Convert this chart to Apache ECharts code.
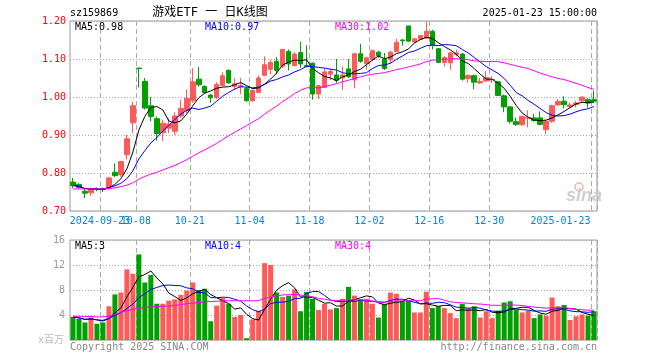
<!DOCTYPE html>
<html><head><meta charset="utf-8">
<script src="https://cdn.jsdelivr.net/npm/echarts@6/dist/echarts.min.js"></script>
<style>html,body{margin:0;padding:0;background:#fff}#c{width:660px;height:360px}</style>
</head><body><div id="c"></div>
<script>
const dates = ['2024-09-12','2024-09-13','2024-09-18','2024-09-19','2024-09-20','2024-09-23','2024-09-24','2024-09-25','2024-09-26','2024-09-27',
'2024-09-30','2024-10-08','2024-10-09','2024-10-10','2024-10-11','2024-10-14','2024-10-15','2024-10-16','2024-10-17','2024-10-18',
'2024-10-21','2024-10-22','2024-10-23','2024-10-24','2024-10-25','2024-10-28','2024-10-29','2024-10-30','2024-10-31','2024-11-01',
'2024-11-04','2024-11-05','2024-11-06','2024-11-07','2024-11-08','2024-11-11','2024-11-12','2024-11-13','2024-11-14','2024-11-15',
'2024-11-18','2024-11-19','2024-11-20','2024-11-21','2024-11-22','2024-11-25','2024-11-26','2024-11-27','2024-11-28','2024-11-29',
'2024-12-02','2024-12-03','2024-12-04','2024-12-05','2024-12-06','2024-12-09','2024-12-10','2024-12-11','2024-12-12','2024-12-13',
'2024-12-16','2024-12-17','2024-12-18','2024-12-19','2024-12-20','2024-12-23','2024-12-24','2024-12-25','2024-12-26','2024-12-27',
'2024-12-30','2024-12-31','2025-01-02','2025-01-03','2025-01-06','2025-01-07','2025-01-08','2025-01-09','2025-01-10','2025-01-13',
'2025-01-14','2025-01-15','2025-01-16','2025-01-17','2025-01-20','2025-01-21','2025-01-22','2025-01-23'];

const open = [.776,.770,.752,.748,.758,.759,.762,.802,.795,.848,
.932,1.076,1.041,.977,.943,.906,.918,.910,.950,.964,
.990,1.047,1.028,1.005,.998,1.030,1.070,1.028,1.027,1.022,
.990,1.012,1.057,1.073,1.094,1.081,1.120,1.083,1.117,1.083,
1.089,1.008,1.025,1.060,1.058,1.050,1.074,1.045,1.114,1.088,
1.098,1.118,1.100,1.098,1.120,1.150,1.187,1.145,1.152,1.155,
1.173,1.127,1.091,1.090,1.112,1.113,1.048,1.056,1.037,1.042,
1.045,1.040,1.003,.974,.935,.927,.944,.945,.945,.914,
.936,.979,.989,.975,.980,.990,.993,.993];

const close = [.767,.762,.747,.757,.757,.757,.787,.793,.830,.890,
.977,1.075,.971,.949,.904,.931,.929,.950,.970,.996,
1.040,1.032,1.012,.998,1.033,1.056,1.037,1.035,1.030,.990,
1.017,1.050,1.085,1.091,1.070,1.125,1.087,1.113,1.087,1.080,
1.008,1.030,1.066,1.067,1.044,1.058,1.054,1.114,1.094,1.103,
1.122,1.109,1.075,1.118,1.144,1.148,1.147,1.153,1.162,1.173,
1.136,1.091,1.104,1.116,1.116,1.047,1.057,1.039,1.041,1.051,
1.046,1.004,.974,.936,.928,.949,.946,.938,.928,.936,
.977,.988,.980,.979,.984,1.000,.984,.989];

const high = [.787,.773,.760,.762,.762,.762,.789,.825,.832,.900,
.987,1.076,1.050,1.000,.949,.940,.944,.960,.993,1.020,
1.076,1.079,1.031,1.008,1.039,1.065,1.073,1.050,1.050,1.027,
1.020,1.057,1.107,1.098,1.105,1.127,1.125,1.118,1.146,1.136,
1.091,1.031,1.075,1.075,1.100,1.080,1.100,1.114,1.140,1.106,
1.125,1.122,1.116,1.122,1.153,1.153,1.187,1.155,1.162,1.199,
1.177,1.129,1.107,1.118,1.125,1.116,1.059,1.059,1.050,1.068,
1.055,1.042,1.006,.976,.945,.951,.965,.956,.962,.940,
.980,.995,1.002,.985,.990,1.001,.997,1.016];

const low = [.760,.758,.734,.740,.752,.750,.755,.789,.790,.836,
.905,1.025,.967,.936,.886,.884,.905,.900,.945,.957,
.985,1.028,1.008,.985,.995,1.028,1.035,1.018,1.007,.988,
.988,1.010,1.055,1.060,1.060,1.076,1.070,1.080,1.077,1.078,
.993,.995,1.024,1.045,1.037,1.018,1.050,1.023,1.090,1.072,
1.095,1.103,1.071,1.088,1.118,1.135,1.145,1.142,1.150,1.153,
1.125,1.089,1.080,1.072,1.107,1.043,1.037,1.020,1.035,1.040,
1.037,1.002,.960,.930,.924,.924,.920,.935,.925,.902,
.932,.977,.970,.970,.973,.987,.972,.985];

const ma5 = [.767,.765,.759,.758,.758,.756,.761,.770,.785,.811,
.855,.913,.949,.972,.975,.966,.937,.932,.937,.955,
.977,.998,1.010,1.016,1.023,1.026,1.027,1.032,1.038,1.030,
1.022,1.024,1.034,1.047,1.063,1.084,1.092,1.097,1.096,1.098,
1.075,1.064,1.054,1.050,1.043,1.053,1.058,1.067,1.073,1.085,
1.097,1.108,1.101,1.105,1.114,1.119,1.126,1.142,1.151,1.157,
1.154,1.143,1.133,1.124,1.113,1.095,1.088,1.075,1.060,1.047,
1.047,1.036,1.023,1.002,.978,.958,.947,.939,.938,.939,
.945,.953,.962,.972,.982,.986,.985,.987];

const ma10 = [.767,.765,.759,.758,.758,.758,.762,.766,.773,.785,
.806,.837,.859,.879,.893,.911,.925,.941,.955,.965,
.971,.967,.971,.976,.989,1.002,1.012,1.021,1.027,1.026,
1.024,1.026,1.033,1.042,1.046,1.053,1.058,1.066,1.072,1.081,
1.080,1.078,1.076,1.073,1.071,1.064,1.061,1.061,1.062,1.064,
1.075,1.083,1.084,1.089,1.099,1.108,1.117,1.121,1.128,1.135,
1.137,1.135,1.138,1.137,1.135,1.125,1.116,1.104,1.092,1.080,
1.071,1.062,1.049,1.031,1.012,1.003,.991,.981,.970,.959,
.952,.950,.951,.955,.961,.966,.969,.975];

const ma30 = [.758,.758,.758,.758,.758,.758,.759,.761,.764,.768,
.774,.784,.791,.797,.802,.808,.814,.820,.827,.835,
.844,.853,.861,.869,.878,.888,.898,.907,.916,.925,
.934,.943,.955,.966,.976,.988,.998,1.009,1.018,1.024,
1.025,1.024,1.027,1.031,1.035,1.040,1.044,1.049,1.053,1.057,
1.060,1.062,1.064,1.068,1.072,1.075,1.079,1.083,1.087,1.093,
1.097,1.098,1.099,1.100,1.101,1.099,1.098,1.095,1.094,1.093,
1.094,1.093,1.090,1.086,1.082,1.078,1.075,1.069,1.063,1.058,
1.053,1.049,1.046,1.041,1.036,1.031,1.025,1.020];

const volume = [3.7,3.4,2.8,3.6,2.6,2.8,5.4,7.3,7.6,11.3,
10.6,13.7,9.2,10.4,5.8,5.8,6.3,6.5,7.2,7.9,
9.2,8.0,8.2,3.0,5.5,6.7,5.8,3.7,4.0,0.3,
3.3,4.7,12.3,12.0,7.6,6.9,7.1,8.1,4.6,7.7,
6.6,4.8,5.8,4.9,5.1,6.6,8.5,7.1,6.5,6.6,
5.8,3.6,5.8,7.6,7.4,6.3,6.3,4.4,4.4,7.7,
5.1,5.4,5.1,4.3,3.5,5.8,5.1,5.4,3.6,4.6,
3.5,4.7,6.0,6.2,4.9,4.4,4.7,3.5,4.1,3.9,
6.8,5.4,5.6,3.2,3.8,4.1,3.9,4.6];

const volMa5 = [3.70,3.55,3.30,3.38,3.22,3.04,3.44,4.34,5.14,6.88,
8.44,10.10,10.48,11.04,9.94,8.98,7.50,6.96,6.32,6.74,
7.42,7.76,8.10,7.26,6.78,6.28,5.84,4.94,5.14,4.10,
3.42,3.20,4.92,6.52,7.98,8.70,9.18,8.34,6.86,6.88,
6.82,6.36,5.90,5.96,5.44,5.44,6.18,6.44,6.76,7.06,
6.90,5.92,5.66,5.88,6.04,6.14,6.68,6.40,5.76,5.82,
5.58,5.40,5.54,5.52,4.68,4.82,4.76,4.82,4.68,4.90,
4.44,4.36,4.48,5.00,5.06,5.24,5.24,4.74,4.32,4.12,
4.60,4.74,5.16,4.98,4.96,4.42,4.12,3.92];

const volMa10 = [3.70,3.55,3.30,3.38,3.22,3.15,3.47,3.95,4.36,5.05,
5.74,6.77,7.41,8.09,8.41,8.71,8.80,8.72,8.68,8.34,
8.20,7.63,7.53,6.79,6.76,6.85,6.80,6.52,6.20,5.44,
4.85,4.52,4.93,5.83,6.04,6.06,6.19,6.63,6.69,7.43,
7.76,7.77,7.12,6.41,6.16,6.13,6.27,6.17,6.36,6.25,
6.17,6.05,6.05,6.32,6.55,6.52,6.30,6.03,5.82,5.93,
5.86,6.04,5.97,5.64,5.25,5.20,5.08,5.18,5.10,4.79,
4.63,4.56,4.65,4.84,4.98,4.84,4.80,4.61,4.66,4.59,
4.92,4.99,4.95,4.65,4.54,4.51,4.43,4.54];

const volMa30 = [3.8,3.8,3.75,3.75,3.7,3.7,3.8,4.1,4.4,4.7,
4.9,5.1,5.2,5.3,5.35,5.4,5.45,5.55,5.65,5.8,
5.9,6.0,6.1,6.15,6.2,6.25,6.3,6.3,6.3,6.28,
6.26,6.31,6.62,6.90,7.07,7.21,7.26,7.29,7.19,7.07,
6.94,6.64,6.53,6.34,6.32,6.35,6.42,6.44,6.42,6.37,
6.26,6.11,6.03,6.19,6.25,6.24,6.25,6.28,6.29,6.54,
6.60,6.62,6.38,6.12,5.99,5.95,5.88,5.79,5.76,5.66,
5.55,5.55,5.56,5.60,5.59,5.52,5.39,5.27,5.19,5.10,
5.14,5.20,5.19,5.04,4.92,4.85,4.77,4.78];

const labelIdx = [5, 11, 20, 30, 40, 50, 60, 70, 87];
const firstLabelIdx = 5;
const lastLabelIdx = 87;
const priceTicks = {min: 0.70, max: 1.20, step: 0.10};
const volTicks = {min: 0, max: 16, step: 4};
const legendPrice = ['MA5:0.98', 'MA10:0.97', 'MA30:1.02'];
const legendVol = ['MA5:3', 'MA10:4', 'MA30:4'];

const UP = '#ff5a5a', DOWN = '#00a000';
const MONO = 'DejaVu Sans Mono';
const XLAB = '#0a84cf';
const chart = echarts.init(document.getElementById('c'), null, {renderer: 'canvas'});

const candles = dates.map((d, i) => [open[i], close[i], low[i], high[i]]);
const volBars = volume.map((v, i) => ({value: v, itemStyle: {color: close[i] > open[i] ? UP : DOWN}}));
const showIdx = (i) => labelIdx.indexOf(i) >= 0;

function txt(x, y, text, fill, align, size, family) {
  return {type: 'text', x: x, y: y, silent: true, z: 100,
    style: {text: text, fill: fill, font: (size || 10) + 'px ' + (family || MONO),
      align: align || 'left', verticalAlign: 'middle', textAlign: align || 'left', textVerticalAlign: 'middle'}};
}

const richStyles = {
  n: {color: XLAB, fontSize: 10, fontFamily: MONO, padding: [0, 6, 0, 0]},
  last: {color: XLAB, fontSize: 10, fontFamily: MONO, padding: [0, 67, 0, 0]}
};

function xAxisBase(grid, labelFilter, withSplit) {
  return {
    type: 'category', gridIndex: grid, data: dates, boundaryGap: true, position: 'bottom', offset: 0,
    axisLine: {show: false}, axisTick: {show: false},
    axisLabel: labelFilter ? {
      show: true, interval: labelFilter, margin: 5, hideOverlap: false,
      showMinLabel: true, showMaxLabel: true,
      color: XLAB, fontSize: 10, fontFamily: MONO,
      formatter: (v, i) => {
        if (i === lastLabelIdx) return '{last|' + v + '}';
        if (i === firstLabelIdx) return '{n|' + v + '}';
        return '{n|' + v.slice(5) + '}';
      },
      rich: richStyles
    } : {show: false},
    splitLine: {show: withSplit, interval: (i) => showIdx(i), lineStyle: {color: '#aaa', width: 1, type: [5, 3]}}
  };
}

const lineS = (name, data, color, x, y) => ({
  name: name, type: 'line', data: data, xAxisIndex: x, yAxisIndex: y,
  symbol: 'none', smooth: false, silent: true, z: 5,
  lineStyle: {color: color, width: 1}, itemStyle: {color: color}
});

const option = {
  animation: false,
  backgroundColor: '#fff',
  grid: [
    {left: 70, top: 21, width: 527, height: 190, show: true, borderColor: '#9a9a9a', borderWidth: 1, backgroundColor: 'transparent'},
    {left: 70, top: 240, width: 527, height: 100, show: true, borderColor: '#9a9a9a', borderWidth: 1, backgroundColor: 'transparent'}
  ],
  xAxis: [
    xAxisBase(0, (i) => showIdx(i) && i !== firstLabelIdx, true),
    xAxisBase(1, null, true),
    xAxisBase(0, (i) => i === firstLabelIdx, false)
  ],
  yAxis: [
    {type: 'value', gridIndex: 0, min: priceTicks.min, max: priceTicks.max, interval: priceTicks.step,
      axisLine: {show: false}, axisTick: {show: false},
      axisLabel: {color: '#f00', fontSize: 10, fontFamily: MONO, margin: 4, showMinLabel: true, showMaxLabel: true,
        formatter: (v) => v.toFixed(2)},
      splitLine: {show: true, lineStyle: {color: '#aaa', width: 1, type: [1, 2]}}},
    {type: 'value', gridIndex: 1, min: volTicks.min, max: volTicks.max, interval: volTicks.step,
      axisLine: {show: false}, axisTick: {show: false},
      axisLabel: {color: '#999', fontSize: 10, fontFamily: MONO, margin: 5, showMaxLabel: true,
        formatter: (v) => (v === 0 ? '' : String(v))},
      splitLine: {show: true, lineStyle: {color: '#aaa', width: 1, type: [1, 2]}}}
  ],
  series: [
    {name: 'K', type: 'candlestick', data: candles, xAxisIndex: 0, yAxisIndex: 0, barWidth: 5, silent: true, z: 3,
      itemStyle: {color: UP, color0: DOWN, borderColor: UP, borderColor0: DOWN, borderWidth: 1}},
    lineS('MA5', ma5, '#000000', 0, 0),
    lineS('MA10', ma10, '#0000ff', 0, 0),
    lineS('MA30', ma30, '#ff00ff', 0, 0),
    {name: 'VOL', type: 'bar', data: volBars, xAxisIndex: 1, yAxisIndex: 1, barWidth: 5, silent: true, z: 3},
    lineS('VMA5', volMa5, '#000000', 1, 1),
    lineS('VMA10', volMa10, '#0000ff', 1, 1),
    lineS('VMA30', volMa30, '#ff00ff', 1, 1)
  ],
  graphic: [
    txt(70, 13, 'sz159869', '#000', 'left', 10),
    txt(210, 13, '游戏ETF 一 日K线图', '#000', 'center', 12, MONO + ', "Noto Sans CJK SC"'),
    txt(597, 13, '2025-01-23 15:00:00', '#000', 'right', 10),
    txt(75, 27, legendPrice[0], '#000', 'left', 10),
    txt(205, 27, legendPrice[1], '#0000ff', 'left', 10),
    txt(335, 27, legendPrice[2], '#ff00ff', 'left', 10),
    txt(75, 246, legendVol[0], '#000', 'left', 10),
    txt(205, 246, legendVol[1], '#0000ff', 'left', 10),
    txt(335, 246, legendVol[2], '#ff00ff', 'left', 10),
    txt(70, 347, 'Copyright 2025 SINA.COM', '#888', 'left', 10),
    txt(597, 347, 'http://finance.sina.com.cn', '#888', 'right', 10),
    txt(64, 340, 'x百万', '#bbb', 'right', 10, MONO + ', "Noto Sans CJK SC"'),
    {type: 'circle', silent: true, z: 1, shape: {cx: 579, cy: 187, r: 4}, style: {fill: 'none', stroke: '#f4b4b4', lineWidth: 1.5}},
    {type: 'text', silent: true, z: 1, x: 566, y: 196,
      style: {text: 'sina', fill: '#cfcfcf', font: 'italic bold 18px "Liberation Sans"', align: 'left', verticalAlign: 'middle', textAlign: 'left', textVerticalAlign: 'middle'}}
  ]
};
chart.setOption(option);
</script>
</body></html>
